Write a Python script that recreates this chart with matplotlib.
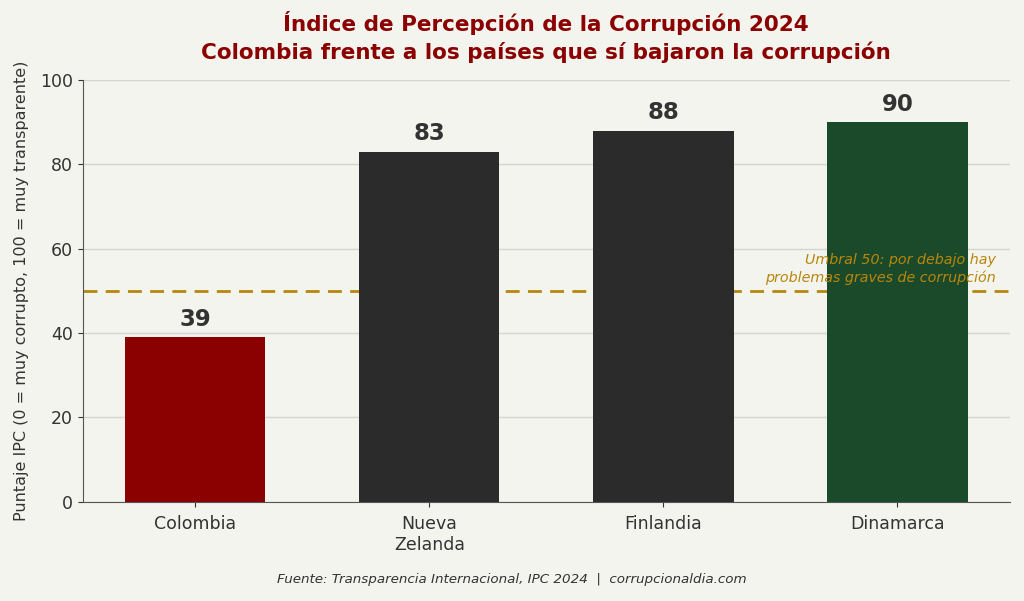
import matplotlib

matplotlib.use("Agg")
import matplotlib.pyplot as plt

# Datos IPC 2024
paises = ["Colombia", "Nueva\nZelanda", "Finlandia", "Dinamarca"]
puntajes = [39, 83, 88, 90]
colores = ["#8b0000", "#2b2b2b", "#2b2b2b", "#1b4a2b"]
umbral = 50

BG = "#f4f4ef"
TXT = "#333333"
GOLD = "#b8860b"

fig, ax = plt.subplots(figsize=(10.24, 6.01), dpi=100)
fig.patch.set_facecolor(BG)
ax.set_facecolor(BG)

bars = ax.bar(range(len(paises)), puntajes, width=0.6, color=colores, zorder=3)
for b, v in zip(bars, puntajes):
    ax.text(b.get_x() + b.get_width() / 2, v + 1.5, str(v), ha="center", va="bottom",
            fontsize=16.5, fontweight="bold", color=TXT, zorder=4)

ax.axhline(umbral, color=GOLD, linestyle="--", linewidth=2, dashes=(5, 3), zorder=2)
ax.text(3.42, umbral + 1.5, "Umbral 50: por debajo hay\nproblemas graves de corrupción",
        ha="right", va="bottom", fontsize=10.3, style="italic", color=GOLD, zorder=5,
        linespacing=1.25)

ax.set_xticks(range(len(paises)))
ax.set_xticklabels(paises, fontsize=12.5, color=TXT)
ax.set_ylim(0, 100)
ax.set_yticks([0, 20, 40, 60, 80, 100])
ax.tick_params(axis="y", labelsize=12.5, colors=TXT)
ax.tick_params(axis="x", colors=TXT, pad=6)
ax.set_ylabel("Puntaje IPC (0 = muy corrupto, 100 = muy transparente)", fontsize=11.5,
              color=TXT, labelpad=8)
ax.yaxis.grid(True, color="#d5d5d0", linewidth=1, zorder=0)
ax.set_axisbelow(True)
for s in ["top", "right"]:
    ax.spines[s].set_visible(False)
for s in ["left", "bottom"]:
    ax.spines[s].set_color("#555555")

ax.set_title("Índice de Percepción de la Corrupción 2024\n"
             "Colombia frente a los países que sí bajaron la corrupción",
             fontsize=15.5, fontweight="bold", color="#8b0000", pad=15, linespacing=1.35)

fig.text(0.5, 0.025, "Fuente: Transparencia Internacional, IPC 2024  |  corrupcionaldia.com",
         ha="center", va="bottom", fontsize=9.7, style="italic", color=TXT)

fig.subplots_adjust(left=0.081, right=0.986, top=0.867, bottom=0.165)
fig.savefig("out.png", dpi=100, facecolor=BG)
